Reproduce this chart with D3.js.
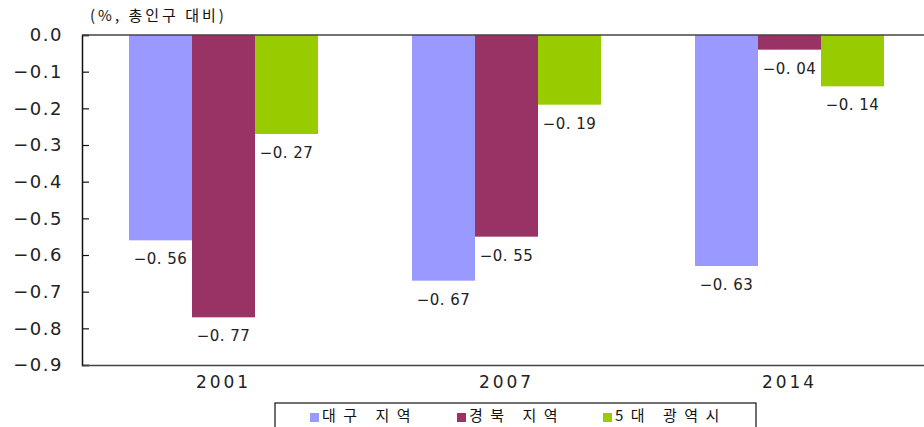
<!DOCTYPE html>
<html><head><meta charset="utf-8">
<script src="https://cdn.jsdelivr.net/npm/d3@7"></script>
<style>body{margin:0;background:#fff}svg{display:block}</style>
</head><body>
<svg id="c" width="924" height="427"></svg>
<script>
const years = ["2001", "2007", "2014"];
const seriesNames = ["대구 지역", "경북 지역", "5대 광역시"];
const daegu = [-0.56, -0.67, -0.63];
const gyeongbuk = [-0.77, -0.55, -0.04];
const metro5 = [-0.27, -0.19, -0.14];
const yTicks = [0, -0.1, -0.2, -0.3, -0.4, -0.5, -0.6, -0.7, -0.8, -0.9];
const colors = ["#9999FF", "#993366", "#99CC00"];
const unitLabel = "(%, 총인구 대비)";

(function () {
const seriesVals = [daegu, gyeongbuk, metro5];
const svg = d3.select("#c");
const mLeft = 82, mRight = 931, mTop = 35, mBottom = 365;
const numFont = "'DejaVu Sans', sans-serif";
const krFont = "'Noto Sans CJK KR', 'DejaVu Sans', sans-serif";

const x = d3.scaleBand().domain(years).range([mLeft, mRight]).paddingInner(0).paddingOuter(0);
const inner = d3.scaleBand().domain(seriesNames).range([0, x.bandwidth()]).paddingOuter(0.5 * (283 - 189) / 63).paddingInner(0);
const y = d3.scaleLinear().domain([0, -0.9]).range([mTop, mBottom]);

// bars
seriesNames.forEach((s, si) => {
  svg.append("g").selectAll("rect").data(years).join("rect")
    .attr("x", d => x(d) + inner(s))
    .attr("y", y(0))
    .attr("width", inner.bandwidth())
    .attr("height", (d, i) => y(seriesVals[si][i]) - y(0))
    .attr("fill", colors[si]);
  svg.append("g").selectAll("text").data(years).join("text")
    .attr("x", d => x(d) + inner(s) + inner.bandwidth() / 2)
    .attr("y", (d, i) => y(seriesVals[si][i]) + 24)
    .attr("text-anchor", "middle")
    .style("font-family", numFont)
    .style("font-size", "15px")
    .style("letter-spacing", "0.5px")
    .attr("fill", "#222")
    .text((d, i) => d3.format(".2f")(seriesVals[si][i]).replace("-", "−").replace(".", ". "));
});

// y axis
const yAxis = d3.axisLeft(y).tickValues(yTicks).tickSize(-7).tickPadding(19)
  .tickFormat(d => d3.format(".1f")(d).replace("-", "−"));
const gy = svg.append("g").attr("transform", `translate(${mLeft},0)`).call(yAxis);
gy.select(".domain").attr("stroke", "#111").attr("stroke-width", 1.5);
gy.selectAll(".tick line").attr("stroke", "#111").attr("stroke-width", 1.2);
gy.selectAll(".tick text").attr("fill", "#222")
  .style("font-family", numFont).style("font-size", "18px").style("letter-spacing", "1.5px");

// zero line and bottom axis line
svg.append("line").attr("x1", mLeft).attr("x2", 924).attr("y1", y(0)).attr("y2", y(0)).attr("stroke", "#444").attr("stroke-width", 1.5);
const xAxis = d3.axisBottom(x).tickSize(0).tickPadding(11);
const gx = svg.append("g").attr("transform", `translate(0,${mBottom})`).call(xAxis);
gx.select(".domain").attr("stroke", "#444").attr("stroke-width", 1.5);
gx.selectAll(".tick text").attr("fill", "#222")
  .style("font-family", numFont).style("font-size", "17px").style("letter-spacing", "3px");

// unit label
svg.append("text").attr("x", 90).attr("y", 21).attr("fill", "#111")
  .style("font-family", krFont).style("font-size", "15px").style("letter-spacing", "3px").text(unitLabel);

// legend
const lg = svg.append("g");
lg.append("rect").attr("x", 275).attr("y", 403).attr("width", 481).attr("height", 40).attr("fill", "#fff").attr("stroke", "#111").attr("stroke-width", 1.2);
const legX = [310, 457, 603];
seriesNames.forEach((s, i) => {
  lg.append("rect").attr("x", legX[i]).attr("y", 413).attr("width", 9).attr("height", 9).attr("fill", colors[i]);
  lg.append("text").attr("x", legX[i] + 12).attr("y", 421).attr("fill", "#111")
    .style("font-family", krFont).style("font-size", "15px").style("letter-spacing", "7.5px").text(s);
});
})();
</script>
</body></html>
